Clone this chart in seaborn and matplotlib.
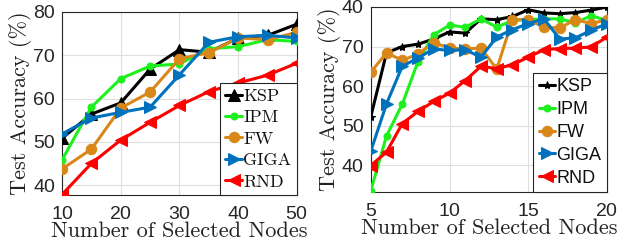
import matplotlib
matplotlib.use("Agg")
import matplotlib.pyplot as plt
import seaborn as sns
import pandas as pd

# ---- data: left panel ----
x_left = [10, 15, 20, 25, 30, 35, 40, 45, 50]
ksp_left = [50.8, 56.4, 59.0, 66.8, 71.3, 70.7, 74.0, 74.6, 77.2]
ipm_left = [45.8, 58.0, 64.6, 67.5, 68.0, 71.5, 72.0, 73.6, 73.2]
fw_left = [43.7, 48.3, 57.8, 61.5, 69.2, 70.6, 74.0, 73.6, 75.3]
giga_left = [51.8, 55.5, 56.8, 58.0, 65.5, 73.0, 74.3, 74.6, 74.0]
rnd_left = [37.8, 45.0, 50.4, 54.5, 58.4, 61.6, 63.6, 65.4, 68.2]

# ---- data: right panel ----
x_right = [5, 6, 7, 8, 9, 10, 11, 12, 13, 14, 15, 16, 17, 18, 19, 20]
ksp_right = [52.2, 68.4, 70.0, 70.6, 71.9, 73.7, 73.4, 77.0, 76.8, 77.6, 79.3, 78.5, 78.3, 78.6, 79.2, 80.0]
ipm_right = [33.5, 47.4, 55.4, 66.2, 73.0, 75.4, 74.9, 77.0, 74.9, 76.6, 76.8, 77.0, 77.0, 76.0, 77.8, 76.6]
fw_right = [63.5, 68.4, 66.5, 68.1, 71.0, 69.6, 69.4, 69.6, 64.3, 76.8, 76.8, 74.9, 74.7, 76.8, 75.8, 76.8]
giga_right = [43.5, 55.5, 65.0, 67.1, 69.4, 69.0, 69.2, 67.3, 72.4, 74.3, 75.8, 77.0, 71.9, 72.2, 74.1, 75.8]
rnd_right = [39.9, 43.3, 50.5, 53.6, 56.1, 58.2, 61.4, 65.0, 64.4, 65.4, 67.3, 69.2, 69.5, 69.6, 69.9, 72.4]

methods = ["KSP", "IPM", "FW", "GIGA", "RND"]
left_ticks_y = [40, 50, 60, 70, 80]
left_ticklabels_y = ["40", "50", "60", "70", "80"]
right_ticks_y = [40, 50, 60, 70, 80]
right_ticklabels_y = ["40", "50", "60", "70", "40"]
left_ticks_x = [10, 20, 30, 40, 50]
right_ticks_x = [5, 10, 15, 20]
xlabel = "Number of Selected Nodes"
ylabel = "Test Accuracy (%)"

colors = {"KSP": "#000000", "IPM": "#1EF01E", "FW": "#D98719",
          "GIGA": "#0072BD", "RND": "#FF0000"}

sns.set_theme(style="whitegrid")
serif = ["cmr10", "DejaVu Serif"]
sans = ["Liberation Sans", "DejaVu Sans"]
plt.rcParams["font.family"] = sans
plt.rcParams["axes.formatter.use_mathtext"] = True

fig = plt.figure(figsize=(6.2, 2.5), dpi=100)
axL = fig.add_axes([0.100, 0.220, 0.379, 0.732])
axR = fig.add_axes([0.598, 0.232, 0.381, 0.740])


def draw(ax, x, series, markers, sizes, legend_font):
    for m in methods:
        df = pd.DataFrame({"x": x, "y": series[m]})
        sns.lineplot(data=df, x="x", y="y", ax=ax, color=colors[m],
                     marker=markers[m], markersize=sizes[m], linewidth=2.2,
                     markeredgecolor=colors[m], label=m, zorder=3)
    leg = ax.legend(loc="lower right", borderaxespad=0.0, handlelength=0.9,
                    handletextpad=0.1, labelspacing=0.32, borderpad=0.3,
                    fancybox=False, framealpha=1.0, prop={"family": legend_font, "size": 13})
    leg.get_frame().set_edgecolor("#262626")
    leg.get_frame().set_linewidth(0.8)
    for t in leg.get_texts():
        t.set_color("#111111")


series_left = {"KSP": ksp_left, "IPM": ipm_left, "FW": fw_left, "GIGA": giga_left, "RND": rnd_left}
series_right = {"KSP": ksp_right, "IPM": ipm_right, "FW": fw_right, "GIGA": giga_right, "RND": rnd_right}

markers_left = {"KSP": "^", "IPM": "o", "FW": "o", "GIGA": ">", "RND": "<"}
sizes_left = {"KSP": 8, "IPM": 5, "FW": 7.5, "GIGA": 8.5, "RND": 8.5}
markers_right = {"KSP": "*", "IPM": "o", "FW": "o", "GIGA": ">", "RND": "<"}
sizes_right = {"KSP": 6, "IPM": 5, "FW": 7.5, "GIGA": 8.5, "RND": 8.5}

draw(axL, x_left, series_left, markers_left, sizes_left, serif)
draw(axR, x_right, series_right, markers_right, sizes_right, sans)

axL.set_xlim(10, 50)
axL.set_ylim(37.7, 80)
axL.set_xticks(left_ticks_x)
axL.set_yticks(left_ticks_y)
axL.set_yticklabels(left_ticklabels_y)

axR.set_xlim(5, 20)
axR.set_ylim(33.2, 80)
axR.set_xticks(right_ticks_x)
axR.set_yticks(right_ticks_y)
axR.set_yticklabels(right_ticklabels_y)

for ax in (axL, axR):
    ax.set_xlabel(xlabel, family=serif, fontsize=16, color="#222222", labelpad=-1)
    ax.set_ylabel(ylabel, family=serif, fontsize=16, color="#222222", labelpad=1)
    ax.tick_params(axis="both", labelsize=14, colors="#262626", length=3,
                   direction="in")
    ax.tick_params(axis="x", pad=8)
    ax.tick_params(axis="y", pad=5)
    ax.grid(True, color="#DEDEDE", linewidth=0.8)
    for s in ax.spines.values():
        s.set_edgecolor("#262626")
        s.set_linewidth(0.8)
    ax.set_facecolor("white")

fig.savefig("out.png", dpi=100)
